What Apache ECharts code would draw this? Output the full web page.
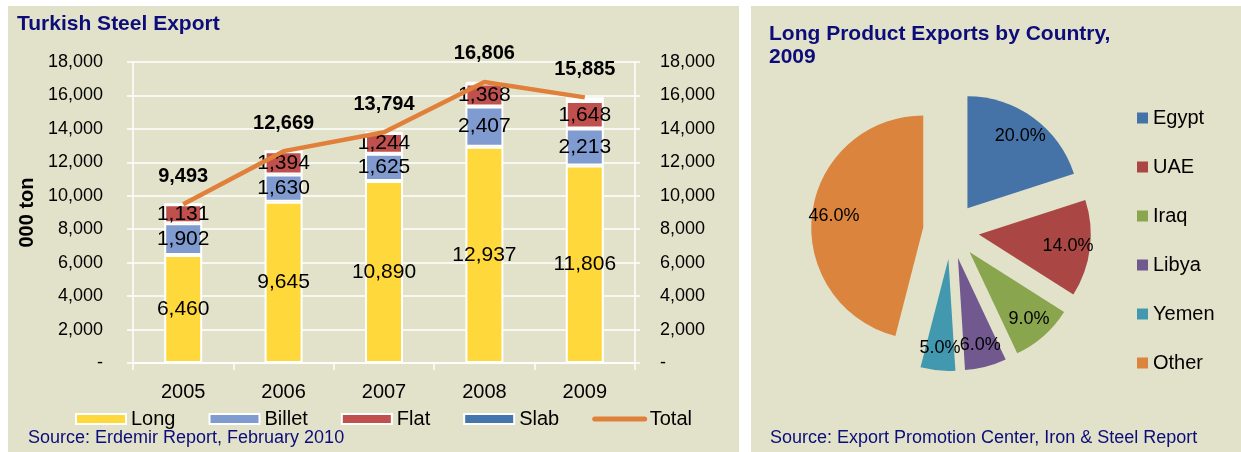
<!DOCTYPE html>
<html lang="en">
<head>
    <meta charset="UTF-8">
    <title>Turkish Steel Export</title>
    <script src="https://cdn.jsdelivr.net/npm/echarts@6/dist/echarts.min.js"></script>
    <style>
        *{
            padding:0;
            margin:0;
        }
        html,body{
            width:1241px;
            height:452px;
            background:#fff;
        }
        #main{
            width:1241px;
            height:452px;
        }
    </style>
</head>
<body>
<div id="main"></div>
<script>
    // bar chart data (000 ton)
    var years = ['2005', '2006', '2007', '2008', '2009'];
    var longVals = [6460, 9645, 10890, 12937, 11806];
    var billetVals = [1902, 1630, 1625, 2407, 2213];
    var flatVals = [1131, 1394, 1244, 1368, 1648];
    var slabVals = [0, 0, 35, 94, 218];
    var totalVals = [9493, 12669, 13794, 16806, 15885];

    // pie data (%)
    var countries = ['Egypt', 'UAE', 'Iraq', 'Libya', 'Yemen', 'Other'];
    var shares = [20, 14, 9, 6, 5, 46];
    var pieColors = ['#4572a7', '#aa4643', '#89a54e', '#71588f', '#4198af', '#db843d'];

    var font = "'Liberation Sans', Arial, sans-serif";
    var navy = '#0c0c7a';
    var panel = '#e2e2ca';

    function fmt(v) {
        return v === 0 ? '-' : v.toLocaleString('en-US');
    }

    var myChart = echarts.init(document.getElementById('main'));

    var pieData = countries.map(function (c, i) {
        return {name: c, value: shares[i], selected: true, itemStyle: {color: pieColors[i]}};
    });
    var pieLabelData = countries.map(function (c, i) {
        return {name: c, value: shares[i], selected: true};
    });

    function barSeries(name, data, color, showLabel) {
        return {
            name: name,
            type: 'bar',
            stack: 'exp',
            barWidth: 38,
            data: data,
            itemStyle: {color: color, borderColor: '#fff', borderWidth: 2},
            label: {
                show: showLabel,
                position: 'inside',
                color: '#000',
                fontSize: 21,
                fontFamily: font,
                formatter: function (p) { return fmt(p.value); }
            },
            emphasis: {disabled: true}
        };
    }

    var option = {
        textStyle: {fontFamily: font},
        animation: false,
        graphic: [
            {type: 'rect', z: -10, shape: {x: 8, y: 6, width: 731, height: 446}, style: {fill: panel}},
            {type: 'rect', z: -10, shape: {x: 751, y: 6, width: 490, height: 446}, style: {fill: panel}}
        ],
        title: [
            {
                text: 'Turkish Steel Export', left: 17, top: 14, padding: 0,
                textStyle: {color: navy, fontSize: 21, fontWeight: 'bold', fontFamily: font}
            },
            {
                text: 'Long Product Exports by Country,\n2009', left: 769, top: 23, padding: 0,
                textStyle: {color: navy, fontSize: 21, fontWeight: 'bold', lineHeight: 23, fontFamily: font}
            },
            {
                text: 'Source: Erdemir Report, February 2010', left: 28, top: 429, padding: 0,
                textStyle: {color: navy, fontSize: 18, fontWeight: 'normal', fontFamily: font}
            },
            {
                text: 'Source: Export Promotion Center, Iron & Steel Report', left: 770, top: 429, padding: 0,
                textStyle: {color: navy, fontSize: 18, fontWeight: 'normal', fontFamily: font}
            }
        ],
        legend: [
            {
                data: [
                    {name: 'Long', icon: 'rect'},
                    {name: 'Billet', icon: 'rect'},
                    {name: 'Flat', icon: 'rect'},
                    {name: 'Slab', icon: 'rect'},
                    {name: 'Total', itemStyle: {opacity: 0}, lineStyle: {width: 5, cap: 'round'}}
                ],
                left: 75, top: 409, padding: 0,
                itemWidth: 50, itemHeight: 10, itemGap: 33,
                selectedMode: false,
                textStyle: {color: '#000', fontSize: 20, fontFamily: font}
            },
            {
                data: countries,
                orient: 'vertical',
                left: 1137, top: 108, padding: 0,
                itemWidth: 11, itemHeight: 11, itemGap: 29,
                icon: 'rect',
                selectedMode: false,
                textStyle: {color: '#000', fontSize: 20, lineHeight: 20, fontFamily: font}
            }
        ],
        grid: {left: 133, top: 62, width: 502, height: 301},
        xAxis: {
            type: 'category',
            data: years,
            axisLine: {lineStyle: {color: '#fff', width: 1.5}},
            axisTick: {show: true, length: 7, lineStyle: {color: '#fff', width: 1.5}},
            axisLabel: {color: '#000', fontSize: 20, margin: 19}
        },
        yAxis: [
            {
                type: 'value', min: 0, max: 18000, interval: 2000,
                name: '000 ton', nameLocation: 'middle', nameGap: 96,
                nameTextStyle: {color: '#000', fontSize: 20, fontWeight: 'bold'},
                axisLine: {show: true, lineStyle: {color: '#fff', width: 1.5}},
                axisTick: {show: true, length: 6, lineStyle: {color: '#fff', width: 1.5}},
                splitLine: {lineStyle: {color: '#fff', width: 1.5}},
                axisLabel: {color: '#000', fontSize: 18, margin: 30, formatter: fmt}
            },
            {
                type: 'value', min: 0, max: 18000, interval: 2000, position: 'right',
                axisLine: {show: true, lineStyle: {color: '#fff', width: 1.5}},
                axisTick: {show: true, length: 5, lineStyle: {color: '#fff', width: 1.5}},
                splitLine: {show: false},
                axisLabel: {color: '#000', fontSize: 18, margin: 25, formatter: fmt}
            }
        ],
        series: [
            barSeries('Long', longVals, '#ffd93c', true),
            barSeries('Billet', billetVals, '#809bcf', true),
            barSeries('Flat', flatVals, '#c0504d', true),
            barSeries('Slab', slabVals, '#4575ad', false),
            {
                name: 'Total',
                type: 'line',
                data: totalVals,
                symbol: 'circle',
                symbolSize: 0,
                showSymbol: true,
                itemStyle: {color: '#e0803a'},
                lineStyle: {color: '#e0803a', width: 4.5},
                label: {
                    show: true, position: 'top', distance: 18,
                    color: '#000', fontSize: 20, fontWeight: 'bold', fontFamily: font,
                    formatter: function (p) { return fmt(p.value); }
                },
                emphasis: {disabled: true}
            },
            {
                name: 'Share',
                type: 'pie',
                center: [951, 231],
                radius: [0, 112],
                startAngle: 90,
                selectedMode: 'multiple',
                selectedOffset: 28,
                data: pieData,
                label: {show: false},
                labelLine: {show: false},
                emphasis: {disabled: true},
                silent: true
            },
            {
                name: 'ShareLabels',
                type: 'pie',
                center: [951, 231],
                radius: [62, 112],
                startAngle: 90,
                selectedMode: 'multiple',
                selectedOffset: 28,
                avoidLabelOverlap: false,
                labelLayout: {hideOverlap: false},
                data: pieLabelData,
                itemStyle: {color: 'rgba(0,0,0,0)'},
                label: {
                    show: true, position: 'inside',
                    color: '#000', fontSize: 18, fontFamily: font,
                    formatter: function (p) { return p.value.toFixed(1) + '%'; }
                },
                labelLine: {show: false},
                emphasis: {disabled: true},
                silent: true
            }
        ]
    };
    myChart.setOption(option);
</script>
</body>
</html>
